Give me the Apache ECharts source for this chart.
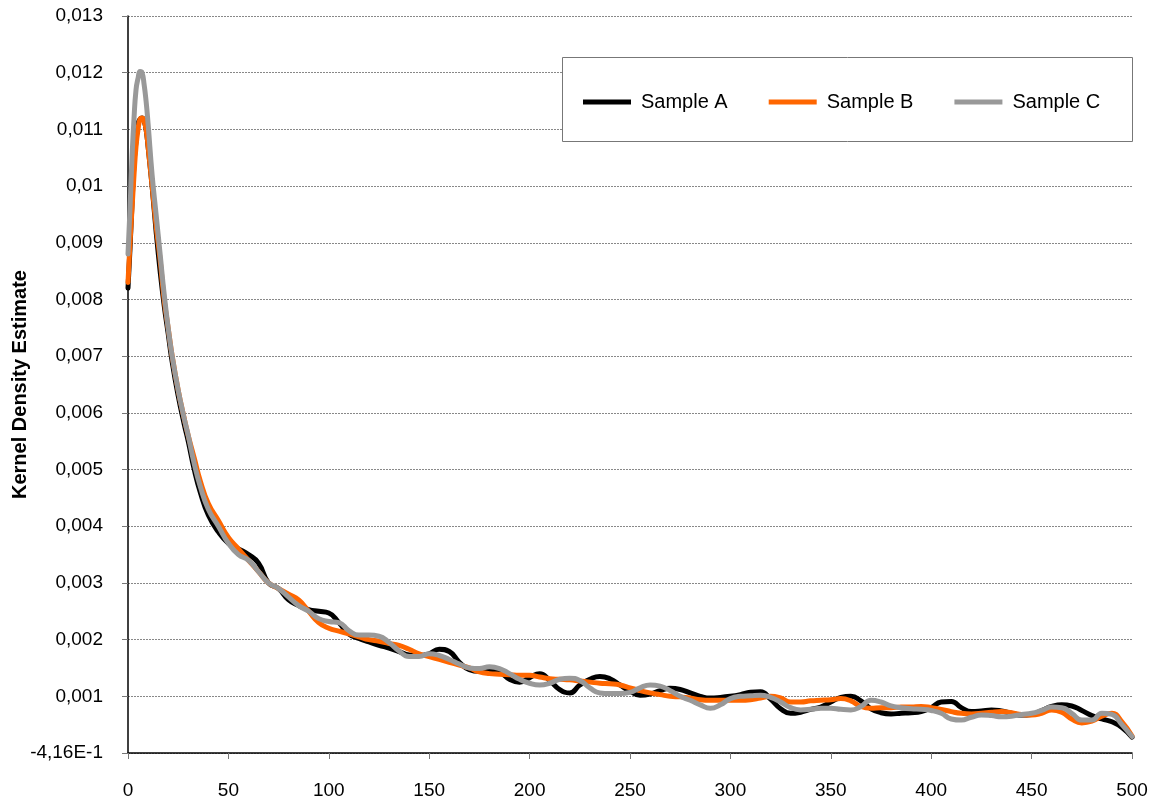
<!DOCTYPE html>
<html>
<head>
<meta charset="utf-8">
<script src="https://cdn.jsdelivr.net/npm/echarts@6/dist/echarts.min.js"></script>
<style>html,body{margin:0;padding:0;background:#fff}#c{width:1156px;height:802px}</style>
</head>
<body>
<div id="c"></div>
<script>
const xs = [0,1,2,3,4,5,6,7,8,9,10,12,14,16,18,20,22,25,28,30,33,36,40,45,50,55,60,65,70,75,80,85,90,95,100,
105,110,115,120,125,130,135,140,145,150,155,160,165,170,175,180,185,190,195,200,
205,210,215,220,225,230,235,240,245,250,255,260,265,270,275,280,285,290,295,300,
305,310,315,320,325,330,335,340,345,350,355,360,365,370,375,380,385,390,395,400,
405,410,415,420,425,430,435,440,445,450,455,460,465,470,475,480,485,490,495,500];

const sampleA = [0.0082,0.0089,0.0097,0.0104,0.0108,0.0111,0.01118,0.0112,0.01115,0.0110,0.0107,0.0100,0.0092,0.0085,0.0079,0.0074,0.0069,0.0063,0.0058,0.0055,0.0050,0.0046,0.0042,0.0039,0.0037,0.0036,0.0035,0.00335,0.0030,0.0029,0.0027,0.0026,0.00253,0.0025,0.00247,
0.0023,0.0021,0.00202,0.00196,0.0019,0.00185,0.00179,0.00173,0.00172,0.00175,0.00183,0.00179,0.0016,0.00147,0.00144,0.00147,0.00143,0.0013,0.00125,0.00133,
0.0014,0.00128,0.00112,0.00106,0.0012,0.0013,0.00135,0.00131,0.0012,0.00109,0.00102,0.00104,0.0011,0.00114,0.00112,0.00106,0.001,0.00097,0.00098,0.001,
0.00103,0.00107,0.00108,0.00095,0.00078,0.0007,0.00072,0.00077,0.00081,0.0009,0.00098,0.001,0.00092,0.00078,0.00071,0.00069,0.0007,0.00071,0.00073,0.0008,
0.0009,0.00091,0.0008,0.00073,0.00074,0.00076,0.00074,0.0007,0.00067,0.00068,0.00075,0.00082,0.00085,0.00083,0.00075,0.00066,0.0006,0.00055,0.00045,0.00028];

const sampleB = [0.0083,0.0090,0.0096,0.0102,0.0107,0.0110,0.01118,0.0112,0.01115,0.0110,0.0107,0.0100,0.0093,0.0087,0.0080,0.0075,0.0070,0.0064,0.0059,0.0056,0.0052,0.0048,0.0044,0.0041,0.0038,0.0036,0.0034,0.0032,0.0030,0.0029,0.0028,0.0027,0.0025,0.0023,0.0022,
0.00215,0.0021,0.00205,0.002,0.00197,0.00193,0.0019,0.00183,0.00175,0.0017,0.00165,0.0016,0.00155,0.0015,0.00143,0.0014,0.00139,0.00138,0.00137,0.00137,
0.00134,0.00131,0.0013,0.00129,0.00127,0.00125,0.00123,0.00122,0.0012,0.00115,0.0011,0.00106,0.00103,0.001,0.00099,0.00097,0.00094,0.00093,0.00093,0.00093,
0.00093,0.00094,0.00097,0.001,0.00097,0.0009,0.0009,0.00092,0.00093,0.00094,0.00096,0.00092,0.00082,0.00079,0.0008,0.0008,0.00081,0.00081,0.00082,0.0008,
0.00077,0.00073,0.0007,0.00069,0.0007,0.00072,0.00073,0.00071,0.00068,0.00067,0.0007,0.00076,0.00072,0.0006,0.00053,0.00056,0.00065,0.0007,0.00055,0.0003];

const sampleC = [0.0088,0.0096,0.0105,0.0112,0.0117,0.0119,0.01202,0.0120,0.0118,0.0115,0.0111,0.0102,0.0095,0.0088,0.0081,0.0075,0.0070,0.0064,0.0059,0.0056,0.0051,0.0047,0.0043,0.0040,0.0037,0.0035,0.0034,0.0032,0.0030,0.0029,0.00275,0.0026,0.0025,0.00237,0.00232,
0.0023,0.00216,0.00208,0.00208,0.00206,0.00195,0.0018,0.0017,0.0017,0.00175,0.00172,0.00165,0.00157,0.0015,0.00149,0.00152,0.00149,0.0014,0.0013,0.00123,
0.0012,0.00123,0.0013,0.00132,0.00128,0.00115,0.00106,0.00105,0.00105,0.00107,0.00115,0.0012,0.00118,0.0011,0.001,0.00093,0.00085,0.00079,0.00085,0.00096,
0.001,0.00101,0.00102,0.00098,0.0009,0.0008,0.00076,0.00077,0.00079,0.00079,0.00077,0.00076,0.00082,0.00093,0.0009,0.00083,0.0008,0.00078,0.00077,0.00075,
0.0007,0.0006,0.00058,0.00063,0.00067,0.00066,0.00064,0.00065,0.00068,0.0007,0.00075,0.00081,0.0008,0.0007,0.00058,0.00058,0.0007,0.00068,0.0005,0.00029];

const seriesNames = ['Sample A','Sample B','Sample C'];
const seriesColors = ['#000000','#FF6600','#999999'];
const seriesValues = [sampleA, sampleB, sampleC];
const yTitle = 'Kernel Density Estimate';
const zeroLabel = '-4,16E-1';

const FONT = '"Liberation Sans", Arial, sans-serif';

function fmtY(v){
  if (Math.abs(v) < 1e-9) return zeroLabel;
  return String(parseFloat(v.toFixed(3))).replace('.', ',');
}

const chart = echarts.init(document.getElementById('c'), null, {renderer:'canvas'});
chart.setOption({
  animation: false,
  backgroundColor: '#ffffff',
  textStyle: {fontFamily: FONT},
  grid: {left: 128, right: 24, top: 16, bottom: 49, containLabel: false, outerBoundsMode: 'none'},
  graphic: [{
    type: 'rect', left: 562, top: 57, z: 10,
    shape: {width: 570, height: 84},
    style: {fill: '#ffffff', stroke: '#777777', lineWidth: 1}
  }],
  legend: {
    left: 578, top: 87, z: 20,
    itemWidth: 48, itemHeight: 5, itemGap: 41,
    icon: 'rect',
    textStyle: {fontFamily: FONT, fontSize: 20, color: '#000', padding: [0,0,0,5]},
    data: seriesNames.map((n,i)=>({name:n, itemStyle:{color:seriesColors[i]}}))
  },
  xAxis: {
    type: 'value', min: 0, max: 500, interval: 50,
    axisLine: {show: true, lineStyle: {color: '#000', width: 1.5}},
    axisTick: {show: true, inside: false, length: 6, lineStyle: {color: '#777'}},
    axisLabel: {fontFamily: FONT, fontSize: 19, color: '#000', margin: 28},
    splitLine: {show: false}
  },
  yAxis: {
    type: 'value', min: 0, max: 0.013, interval: 0.001,
    name: yTitle, nameLocation: 'middle', nameGap: 98, nameRotate: 90, nameMoveOverlap: false,
    nameTextStyle: {fontFamily: FONT, fontSize: 20, fontWeight: 'bold', color: '#000'},
    axisLine: {show: true, lineStyle: {color: '#000', width: 1.5}},
    axisTick: {show: true, inside: false, length: 6, lineStyle: {color: '#777'}},
    axisLabel: {fontFamily: FONT, fontSize: 19, color: '#000', margin: 25, formatter: fmtY},
    splitLine: {show: true, lineStyle: {color: '#888', type: [2,1], width: 1}}
  },
  series: seriesNames.map((n,i)=>({
    name: n, type: 'line', smooth: 0.5, showSymbol: false, symbol: 'none',
    lineStyle: {color: seriesColors[i], width: 5, cap: 'round', join: 'round'},
    itemStyle: {color: seriesColors[i]},
    data: xs.map((x,j)=>[x, seriesValues[i][j]]),
    z: 2 + i
  }))
});
</script>
</body>
</html>
